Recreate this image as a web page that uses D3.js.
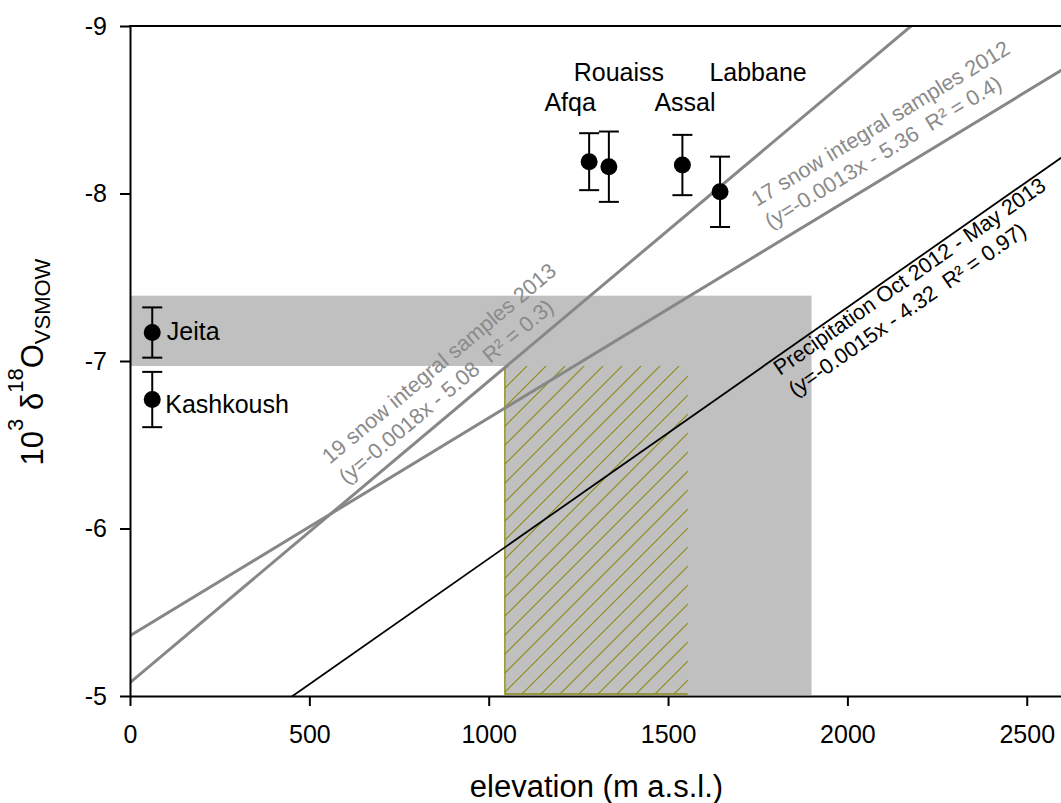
<!DOCTYPE html>
<html>
<head>
<meta charset="utf-8">
<script src="https://cdn.jsdelivr.net/npm/d3@7"></script>
<style>
  html, body { margin: 0; padding: 0; background: #fff; }
  svg { display: block; font-family: Arial, "Liberation Sans", sans-serif; }
  text { white-space: pre; }
</style>
</head>
<body>
<svg id="chart" width="1061" height="803"></svg>
<script>
// Springs: elevation (m a.s.l.), mean δ18O (‰ VSMOW) and spread
const sites = ["Jeita", "Kashkoush", "Afqa", "Rouaiss", "Assal", "Labbane"];
const siteElevation = [62, 62, 1280, 1335, 1540, 1645];
const siteMean = [-7.17, -6.77, -8.19, -8.16, -8.17, -8.01];
const siteSpread = [0.15, 0.165, 0.17, 0.21, 0.18, 0.21];

// Altitude gradients: δ18O = slope * elevation + intercept
const fitNames = ["19 snow integral samples 2013", "17 snow integral samples 2012", "Precipitation Oct 2012 - May 2013"];
const fitSlope = [-0.0018, -0.0013, -0.0015];
const fitIntercept = [-5.08, -5.36, -4.32];
const fitR2 = ["0.3", "0.4", "0.97"];

// Shaded ranges
const bandDelta = [-7.39, -6.97];
const bandElevation = [0, 1900];
const rechargeElevation = [1045, 1900];
const hatchElevation = [1045, 1555];

const xTicks = [0, 500, 1000, 1500, 2000, 2500];
const yTicks = [-9, -8, -7, -6, -5];

// ---- layout ----
const svg = d3.select("#chart");
const plotLeft = 130, plotTop = 26, plotBottom = 696;
const x = d3.scaleLinear().domain([0, 2600]).range([plotLeft, plotLeft + 2600 * 0.3587]);
const y = d3.scaleLinear().domain([-9, -5]).range([plotTop, plotBottom]);

const defs = svg.append("defs");
defs.append("clipPath").attr("id", "plot-clip")
  .append("rect").attr("x", plotLeft).attr("y", plotTop)
  .attr("width", x(2600) - plotLeft).attr("height", plotBottom - plotTop);

const hatch = defs.append("pattern").attr("id", "hatch")
  .attr("patternUnits", "userSpaceOnUse").attr("width", 19).attr("height", 19);
hatch.append("path")
  .attr("d", "M-2,2 L2,-2 M0,19 L19,0 M17,21 L21,17")
  .attr("stroke", "#8a8a10").attr("stroke-width", 1.1).attr("fill", "none");

const plot = svg.append("g").attr("clip-path", "url(#plot-clip)");

// shaded band and recharge-elevation block
plot.append("rect")
  .attr("x", x(bandElevation[0])).attr("width", x(bandElevation[1]) - x(bandElevation[0]))
  .attr("y", y(bandDelta[0])).attr("height", y(bandDelta[1]) - y(bandDelta[0]))
  .attr("fill", "#c0c0c0");
plot.append("rect")
  .attr("x", x(rechargeElevation[0])).attr("width", x(rechargeElevation[1]) - x(rechargeElevation[0]))
  .attr("y", y(bandDelta[1]) - 0.5).attr("height", y(-5) - y(bandDelta[1]) - 0.5)
  .attr("fill", "#c0c0c0");

// hatched sub-range
const hx0 = x(hatchElevation[0]), hx1 = x(hatchElevation[1]);
const hy0 = y(bandDelta[1]), hy1 = y(-5) - 2;
plot.append("rect")
  .attr("x", hx0).attr("width", hx1 - hx0)
  .attr("y", hy0).attr("height", hy1 - hy0)
  .attr("fill", "url(#hatch)");
plot.append("path")
  .attr("d", `M${hx0},${hy0} L${hx0},${hy1} L${hx1},${hy1}`)
  .attr("fill", "none").attr("stroke", "#8a8a10").attr("stroke-width", 1.3);

// regression lines
const fitColor = ["#878787", "#878787", "#000"];
const fitWidth = [3, 3, 1.8];
const xDomain = x.domain();
fitNames.forEach((name, i) => {
  const f = e => fitSlope[i] * e + fitIntercept[i];
  plot.append("line")
    .attr("x1", x(xDomain[0])).attr("y1", y(f(xDomain[0])))
    .attr("x2", x(xDomain[1])).attr("y2", y(f(xDomain[1])))
    .attr("stroke", fitColor[i]).attr("stroke-width", fitWidth[i]);
});

// regression labels, start of first baseline in data units
const fitLabelAt = [[557, -6.38], [1748, -7.92], [1812, -6.91]];
const fitTextColor = ["#8a8a8a", "#8a8a8a", "#000"];
fitNames.forEach((name, i) => {
  const dx = x(1000) - x(0);
  const dy = y(fitSlope[i] * 1000) - y(0);
  const angle = Math.atan2(dy, dx) * 180 / Math.PI;
  const [ax, ay] = fitLabelAt[i];
  const t = svg.append("text")
    .attr("transform", `translate(${x(ax)},${y(ay)}) rotate(${angle})`)
    .attr("font-size", 21.6).attr("fill", fitTextColor[i]);
  t.append("tspan").attr("x", 0).attr("y", 0).text(name);
  const eq = `(y=${fitSlope[i]}x - ${Math.abs(fitIntercept[i]).toFixed(2)}  R² = ${fitR2[i]})`;
  t.append("tspan").attr("x", 0).attr("y", 26).text(eq);
});

// error bars and points
const points = svg.append("g");
sites.forEach((s, i) => {
  const cx = x(siteElevation[i]);
  const yTop = y(siteMean[i] - siteSpread[i]);
  const yBot = y(siteMean[i] + siteSpread[i]);
  points.append("line").attr("x1", cx).attr("x2", cx).attr("y1", yTop).attr("y2", yBot)
    .attr("stroke", "#000").attr("stroke-width", 2);
  [yTop, yBot].forEach(yy => points.append("line")
    .attr("x1", cx - 10).attr("x2", cx + 10).attr("y1", yy).attr("y2", yy)
    .attr("stroke", "#000").attr("stroke-width", 2));
  points.append("circle").attr("cx", cx).attr("cy", y(siteMean[i])).attr("r", 8.5).attr("fill", "#000");
});

// site names, offsets in px from each point
const siteLabelOffset = {
  Jeita: [14.5, 7.5, "start"],
  Kashkoush: [13, 13.5, "start"],
  Afqa: [-19, -50.7, "middle"],
  Rouaiss: [10, -85.7, "middle"],
  Assal: [2.6, -54, "middle"],
  Labbane: [38, -110.8, "middle"]
};
sites.forEach((s, i) => {
  const [dx, dy, anchor] = siteLabelOffset[s];
  svg.append("text")
    .attr("x", x(siteElevation[i]) + dx).attr("y", y(siteMean[i]) + dy)
    .attr("text-anchor", anchor).attr("font-size", 25).attr("fill", "#000")
    .text(s);
});

// axes
const xAxis = svg.append("g").attr("transform", `translate(0,${plotBottom})`)
  .call(d3.axisBottom(x).tickValues(xTicks).tickSize(10).tickSizeOuter(0).tickPadding(19)
    .tickFormat(d => String(d)));
const yAxis = svg.append("g").attr("transform", `translate(${plotLeft},0)`)
  .call(d3.axisLeft(y).tickValues(yTicks).tickSize(10).tickSizeOuter(0).tickPadding(13)
    .tickFormat(d => String(d)));
[xAxis, yAxis].forEach(g => {
  g.selectAll("path.domain").attr("stroke", "#000").attr("stroke-width", 2);
  g.selectAll(".tick line").attr("stroke", "#000").attr("stroke-width", 2);
  g.selectAll(".tick text").attr("font-size", 25).attr("fill", "#000")
    .attr("font-family", "Arial, 'Liberation Sans', sans-serif");
});
// top frame line
svg.append("line").attr("x1", plotLeft - 1).attr("x2", x(2600)).attr("y1", plotTop).attr("y2", plotTop)
  .attr("stroke", "#000").attr("stroke-width", 2);

// axis titles
svg.append("text")
  .attr("x", (x(0) + 1061) / 2 + 1).attr("y", 797)
  .attr("text-anchor", "middle").attr("font-size", 31).attr("fill", "#000")
  .text("elevation (m a.s.l.)");

const yt = svg.append("text")
  .attr("transform", `translate(43,362) rotate(-90)`)
  .attr("text-anchor", "middle").attr("font-size", 31).attr("fill", "#000");
yt.append("tspan").text("10");
yt.append("tspan").attr("font-size", 22).attr("dy", -20).text("3");
yt.append("tspan").attr("dy", 20).text(" δ");
yt.append("tspan").attr("font-size", 22).attr("dy", -20).text("18");
yt.append("tspan").attr("dy", 20).text("O");
yt.append("tspan").attr("font-size", 22).attr("dy", 7).text("VSMOW");
</script>
</body>
</html>
